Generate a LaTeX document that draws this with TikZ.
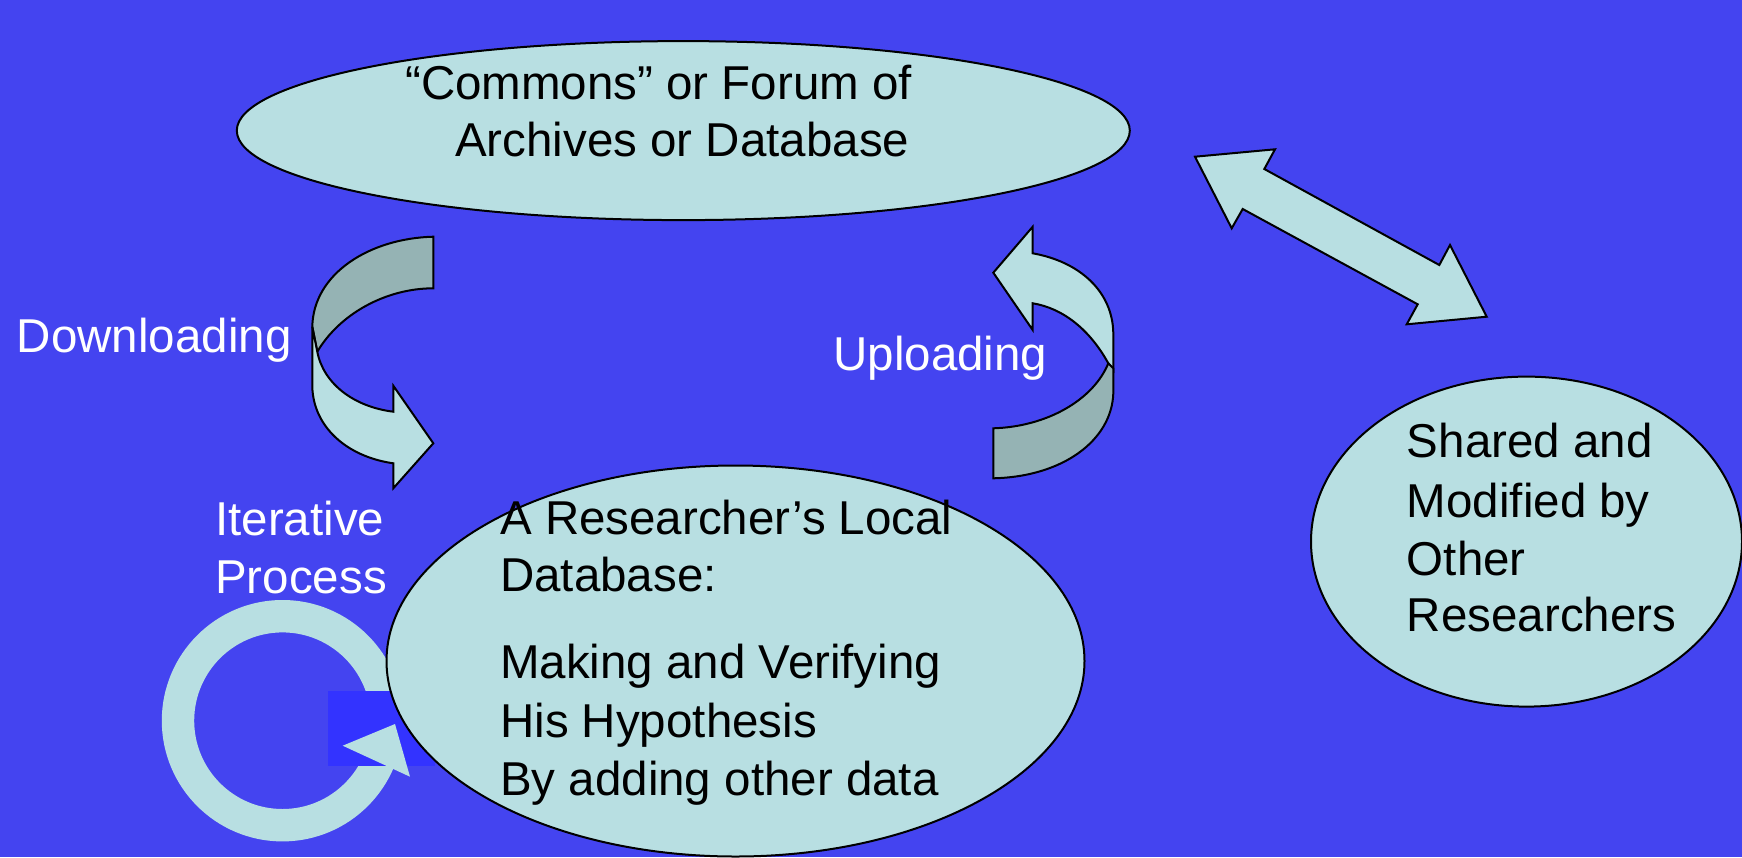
\documentclass[tikz,border=0pt]{standalone}
\usepackage{fontspec}
\setmainfont{Liberation Sans}
\usetikzlibrary{shapes.geometric}
\definecolor{bgblue}{RGB}{68,68,240}
\definecolor{solidblue}{RGB}{51,51,255}
\definecolor{lightface}{RGB}{184,223,226}
\definecolor{darkface}{RGB}{149,179,180}
\tikzset{
  ell/.style={ellipse, draw=black, line width=2pt, fill=lightface, inner sep=0pt},
  lightpart/.style={fill=lightface, draw=black, line width=2pt, line join=miter},
  darkpart/.style={fill=darkface, draw=black, line width=2pt, line join=miter},
  wtxt/.style={text=white, inner sep=0pt, anchor=base west, font=\fontsize{47.5pt}{58pt}\selectfont},
  btxt/.style={text=black, inner sep=0pt, anchor=base west, font=\fontsize{47.5pt}{58pt}\selectfont}
}
\begin{document}
\begin{tikzpicture}[x=1pt,y=-1pt]
\fill[bgblue] (0,0) rectangle (1742,857);
\useasboundingbox (0,0) rectangle (1742,857);

% top ellipse
\node[ell, minimum width=893pt, minimum height=179pt] (commons) at (683.3,130.6) {};
\node[btxt] (c1) at (405,99.3) {“Commons” or Forum of};
\node[btxt] (c2) at (455,156) {Archives or Database};

% double arrow
\filldraw[lightpart] (1195,156.7) -- (1275,149.3) -- (1264.3,169) -- (1439.3,265) -- (1450,245)
  -- (1486.7,316.7) -- (1406.7,324.3) -- (1417.7,304.3) -- (1242.7,209) -- (1231.7,228.3) -- cycle;

% downloading arrow
\filldraw[darkpart] (433.3,236.7) .. controls (370,238.3) and (313.3,273.3) .. (312.3,326.7)
  -- (317.3,351.7) .. controls (340,313.3) and (386.7,288.3) .. (433.3,288.3) -- cycle;
\filldraw[lightpart] (312.3,326.7) -- (312.3,386.7) .. controls (313.3,426.7) and (346.7,456.7) .. (393.3,463.3)
  -- (393.3,488.3) -- (433.3,443.3) -- (393.3,385.7) -- (393.3,411.7)
  .. controls (353.3,406.7) and (323.3,383.3) .. (317.3,351.7) -- cycle;

% uploading arrow
\filldraw[lightpart] (993.3,272.7) -- (1032.7,226.7) -- (1032.7,253.3)
  .. controls (1080,261.7) and (1112.7,291.7) .. (1113.3,333.3) -- (1113.3,370) -- (1108.3,363.3)
  .. controls (1090,330) and (1063.3,308.3) .. (1032.7,303.3) -- (1032.7,330) -- cycle;
\filldraw[darkpart] (1108.3,363.3) -- (1113.3,368.3) -- (1113.3,393.3)
  .. controls (1111.7,440) and (1063.3,476.7) .. (993.3,478.3) -- (993.3,428.3)
  .. controls (1046.7,426.7) and (1093.3,400) .. (1108.3,363.3) -- cycle;

% labels
\node[wtxt] (dl) at (16.7,352.7) {Downloading};
\node[wtxt] (ul) at (833.3,370) {Uploading};
\node[wtxt] (it1) at (215,535) {Iterative};
\node[wtxt] (it2) at (215,593.3) {Process};

% iterative circular arrow
\coordinate (rc) at (282.5,720.7);
\fill[lightface, even odd rule] (rc) circle[radius=120.7] (rc) circle[radius=88.3];
\fill[solidblue] (328.3,691) rectangle (435,766);
\fill[lightface] (342.7,745.7) -- (395,724) -- (410,776.7) -- cycle;

% local ellipse
\node[ell, minimum width=698pt, minimum height=391pt] (local) at (735.5,661) {};
\node[btxt] (l1) at (500,534.3) {A Researcher’s Local};
\node[btxt] (l2) at (500,591.7) {Database:};
\node[btxt] (l3) at (500,678.3) {Making and Verifying};
\node[btxt] (l4) at (500,737.3) {His Hypothesis};
\node[btxt] (l5) at (500,795) {By adding other data};

% right ellipse
\node[ell, minimum width=431pt, minimum height=330pt] (shared) at (1526.5,541.6) {};
\node[btxt] (s1) at (1406.7,457.7) {Shared and};
\node[btxt] (s2) at (1406.7,517.3) {Modified by};
\node[btxt] (s3) at (1406.7,575) {Other};
\node[btxt] (s4) at (1406.7,631.7) {Researchers};
\end{tikzpicture}
\end{document}
